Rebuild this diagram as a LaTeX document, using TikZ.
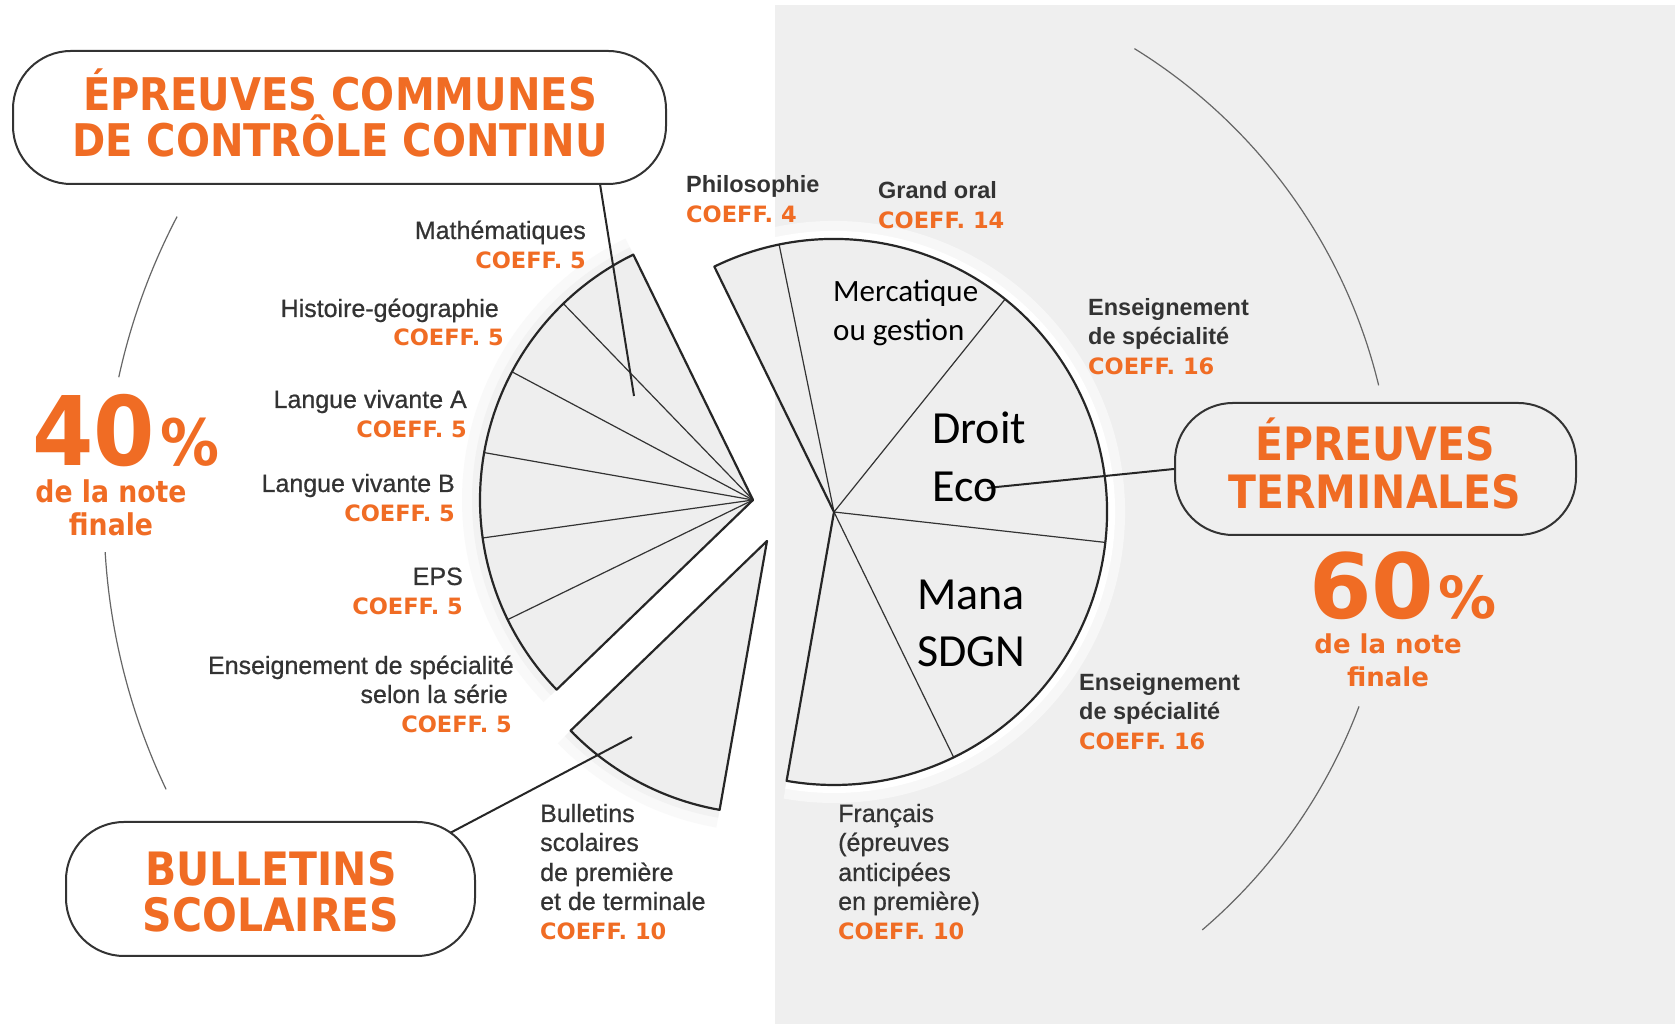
\documentclass[tikz,border=0pt]{standalone}
\usepackage{fontspec}
\setmainfont{Liberation Sans}
\newfontfamily\labf[FakeBold=0.7]{Liberation Sans}
\newfontfamily\titlef[FakeStretch=0.89]{DejaVu Sans}
\newfontfamily\pctf[FakeStretch=0.92]{DejaVu Sans}
\newfontfamily\djv{DejaVu Sans}
\newfontfamily\calib{Carlito}
\definecolor{orng}{HTML}{F06C24}
\definecolor{bgray}{HTML}{EFEFEF}
\definecolor{txt}{HTML}{333333}
\definecolor{slicefill}{HTML}{EEEEEE}
\begin{document}
\begin{tikzpicture}[x=1pt,y=1pt,
 lab/.style={inner sep=0pt, text=txt, font=\labf\fontsize{25}{30}\selectfont},
 labb/.style={inner sep=0pt, text=txt, font=\bfseries\fontsize{23.5}{29}\selectfont},
 coef/.style={inner sep=0pt, text=orng, font=\djv\bfseries\fontsize{22.5}{27}\selectfont},
 ttl/.style={inner sep=0pt, text=orng, font=\titlef\bfseries\fontsize{46}{50}\selectfont},
 pill/.style={draw=txt, line width=2pt, rounded corners=58pt, inner sep=0pt},
 blk/.style={inner sep=0pt, text=black, font=\calib\fontsize{31}{38}\selectfont},
 blkbig/.style={inner sep=0pt, text=black, font=\calib\fontsize{46}{58}\selectfont},
 thinarc/.style={draw=black!60, line width=1.2pt},
 edge/.style={draw=black!85, line width=2.2pt, line join=round},
 divider/.style={draw=black!80, line width=1.2pt},
 conn/.style={draw=black!85, line width=2pt},
 glowA/.style={line width=36pt, draw=black!2.5},
 glowB/.style={line width=16pt, draw=black!5},
 glowC/.style={line width=36pt, draw=white, draw opacity=0.5},
 glowD/.style={line width=16pt, draw=white}
]
\useasboundingbox (0,0) rectangle (1679,1024);
\fill[white] (0,0) rectangle (1679,1024);
\fill[bgray] (775,0) rectangle (1675,1019);

% centres
\coordinate (A1) at (753,524);
\coordinate (A2) at (767,483);
\coordinate (C) at (834,512);

% thin outer arcs
\draw[thinarc, shift={(746,510)}] (152.4:642pt) arc[start angle=152.4, end angle=167.7, radius=642pt];
\draw[thinarc, shift={(746,510)}] (183.4:642pt) arc[start angle=183.4, end angle=205.4, radius=642pt];
\draw[thinarc, shift={(847,510)}] (58.3:547pt) arc[start angle=58.3, end angle=13.6, radius=547pt];
\draw[thinarc, shift={(847,510)}] (-20.6:547pt) arc[start angle=-20.6, end angle=-49.5, radius=547pt];

% glows
\draw[glowA] (A1) ++(116:273pt) arc[start angle=116, end angle=224, radius=273pt];
\draw[glowB] (A1) ++(116:273pt) arc[start angle=116, end angle=224, radius=273pt];
\draw[glowA] (A2) ++(224:273pt) arc[start angle=224, end angle=260, radius=273pt];
\draw[glowB] (A2) ++(224:273pt) arc[start angle=224, end angle=260, radius=273pt];
\draw[glowC] (C) ++(116:273pt) arc[start angle=116, end angle=-100, radius=273pt];
\draw[glowD] (C) ++(116:273pt) arc[start angle=116, end angle=-100, radius=273pt];

% communes sector
\fill[slicefill] (A1) -- ++(116:273pt) arc[start angle=116, end angle=224, radius=273pt] -- cycle;
\foreach \a in {134,152,170,188,206} \draw[divider] (A1) -- ++(\a:273pt);
\draw[edge] (A1) -- ++(116:273pt) arc[start angle=116, end angle=224, radius=273pt] -- cycle;

% bulletins sector
\fill[slicefill] (A2) -- ++(224:273pt) arc[start angle=224, end angle=260, radius=273pt] -- cycle;
\draw[edge] (A2) -- ++(224:273pt) arc[start angle=224, end angle=260, radius=273pt] -- cycle;

% terminales sector
\fill[slicefill] (C) -- ++(116:273pt) arc[start angle=116, end angle=-100, radius=273pt] -- cycle;
\foreach \a in {101.6,51.2,-6.4,-64} \draw[divider] (C) -- ++(\a:273pt);
\draw[edge] (C) -- ++(116:273pt) arc[start angle=116, end angle=-100, radius=273pt] -- cycle;

% connectors
\coordinate (c1a) at (600,840);
\coordinate (c1b) at (634,628);
\coordinate (c2a) at (450,191);
\coordinate (c2b) at (632,287);
\coordinate (c3a) at (987,536);
\draw[conn] (c1a) -- (c1b);
\draw[conn] (c2a) -- (c2b);

% boxes
\node[pill, fill=white, minimum width=653pt, minimum height=133pt] (box1) at (339.5,906.5) {};
\node[pill, fill=white, minimum width=409pt, minimum height=134pt] (box2) at (270.5,135) {};
\node[pill, fill=bgray, minimum width=401pt, minimum height=132pt] (box3) at (1375.5,555) {};
\draw[conn] (c3a) -- (box3.west);

% titles
\node[ttl, font=\titlef\bfseries\fontsize{45}{50}\selectfont, anchor=base] (t1a) at (340,913.6) {ÉPREUVES COMMUNES};
\node[ttl, font=\titlef\bfseries\fontsize{45}{50}\selectfont, anchor=base] (t1b) at (340,867.6) {DE CONTRÔLE CONTINU};
\node[ttl, anchor=base] (t2a) at (271,138) {BULLETINS};
\node[ttl, anchor=base] (t2b) at (271,92) {SCOLAIRES};
\node[ttl, anchor=base] (t3a) at (1375,563) {ÉPREUVES};
\node[ttl, anchor=base] (t3b) at (1375,515) {TERMINALES};

% percentages
\node[inner sep=0pt, text=orng, anchor=base west, font=\pctf\bfseries\fontsize{96}{96}\selectfont] (p40) at (32,558) {40};
\node[inner sep=0pt, text=orng, anchor=base west, font=\pctf\bfseries\fontsize{64}{64}\selectfont] (p40pc) at (160,558) {\%};
\node[inner sep=0pt, text=orng, anchor=base, font=\titlef\bfseries\fontsize{30}{30}\selectfont] (p40a) at (111,521) {de la note};
\node[inner sep=0pt, text=orng, anchor=base, font=\titlef\bfseries\fontsize{30}{30}\selectfont] (p40b) at (111,488) {finale};
\node[inner sep=0pt, text=orng, anchor=base west, font=\djv\bfseries\fontsize{90}{90}\selectfont] (p60) at (1309,405) {60};
\node[inner sep=0pt, text=orng, anchor=base west, font=\djv\bfseries\fontsize{58}{58}\selectfont] (p60pc) at (1438,405) {\%};
\node[inner sep=0pt, text=orng, anchor=base, font=\djv\bfseries\fontsize{26}{26}\selectfont] (p60a) at (1388,370) {de la note};
\node[inner sep=0pt, text=orng, anchor=base, font=\djv\bfseries\fontsize{26}{26}\selectfont] (p60b) at (1388,337) {finale};

% left labels
\node[lab, anchor=base east] (m1) at (586,785) {Mathématiques};
\node[coef, anchor=base east] (m1c) at (586,755) {COEFF. 5};
\node[lab, anchor=base east] (m2) at (499,707) {Histoire-géographie};
\node[coef, anchor=base east] (m2c) at (504,678) {COEFF. 5};
\node[lab, anchor=base east] (m3) at (467,616) {Langue vivante A};
\node[coef, anchor=base east] (m3c) at (467,586) {COEFF. 5};
\node[lab, anchor=base east] (m4) at (455,532) {Langue vivante B};
\node[coef, anchor=base east] (m4c) at (455,502) {COEFF. 5};
\node[lab, anchor=base east] (m5) at (463,439) {EPS};
\node[coef, anchor=base east] (m5c) at (463,409) {COEFF. 5};
\node[lab, anchor=base east] (m6) at (514,350) {Enseignement de spécialité};
\node[lab, anchor=base east] (m6b) at (508,321) {selon la série};
\node[coef, anchor=base east] (m6c) at (512,291) {COEFF. 5};

% right labels
\node[labb, anchor=base west] (r1) at (686,831) {Philosophie};
\node[coef, anchor=base west] (r1c) at (686,801) {COEFF. 4};
\node[labb, anchor=base west] (r2) at (878,825) {Grand oral};
\node[coef, anchor=base west] (r2c) at (878,795) {COEFF. 14};
\node[labb, anchor=base west] (r3) at (1088,708) {Enseignement};
\node[labb, anchor=base west] (r3b) at (1088,679) {de spécialité};
\node[coef, anchor=base west] (r3c) at (1088,649) {COEFF. 16};
\node[labb, anchor=base west] (r4) at (1079,333) {Enseignement};
\node[labb, anchor=base west] (r4b) at (1079,304) {de spécialité};
\node[coef, anchor=base west] (r4c) at (1079,274) {COEFF. 16};

% bottom labels
\node[lab, anchor=base west] (b1) at (540,202) {Bulletins};
\node[lab, anchor=base west] (b2) at (540,173) {scolaires};
\node[lab, anchor=base west] (b3) at (540,143) {de première};
\node[lab, anchor=base west] (b4) at (540,114) {et de terminale};
\node[coef, anchor=base west] (b5) at (540,84) {COEFF. 10};
\node[lab, anchor=base west] (f1) at (838,202) {Français};
\node[lab, anchor=base west] (f2) at (838,173) {(épreuves};
\node[lab, anchor=base west] (f3) at (838,143) {anticipées};
\node[lab, anchor=base west] (f4) at (838,114) {en première)};
\node[coef, anchor=base west] (f5) at (838,84) {COEFF. 10};

% black overlay text
\node[blk, anchor=base west] (k1) at (833,722) {Mercatique};
\node[blk, anchor=base west] (k2) at (833,683) {ou gestion};
\node[blkbig, anchor=base west] (k3) at (932,580) {Droit};
\node[blkbig, anchor=base west] (k4) at (932,522) {Eco};
\node[blkbig, anchor=base west] (k5) at (917,414) {Mana};
\node[blkbig, anchor=base west] (k6) at (917,357) {SDGN};
\end{tikzpicture}
\end{document}
